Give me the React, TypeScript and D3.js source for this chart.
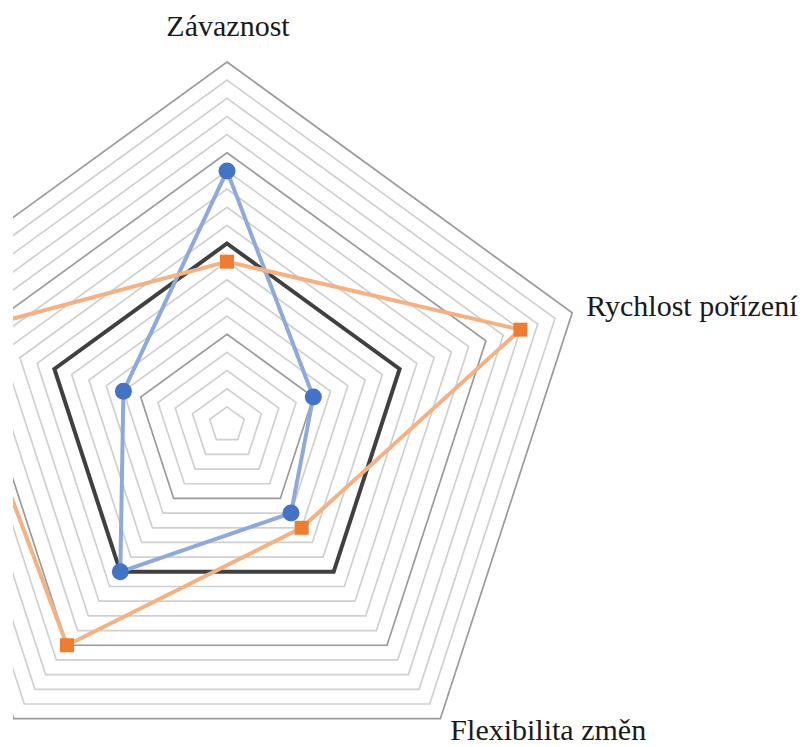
import React from 'react'
import * as d3 from 'd3'

// axes, clockwise from the top (the two on the left are cut off in the original)
const categories = ['Závaznost', 'Rychlost pořízení', 'Flexibilita změn', '', '']
const seriesBlue = [14, 5, 6, 10, 6]
const seriesOrange = [9, 17, 7, 15, 16]
const seriesDark = [10, 10, 10, 10, 10]
const gridLevels = d3.range(1, 21)

const width = 807
const height = 747
const cx = 227
const cy = 425
const radius = 363

const r = d3.scaleLinear().domain([0, 20]).range([0, radius])
const angle = d3
  .scaleLinear()
  .domain([0, categories.length])
  .range([0, 2 * Math.PI])

const point = (v: number, i: number): [number, number] => {
  const a = angle(i)
  return [cx + r(v) * Math.sin(a), cy - r(v) * Math.cos(a)]
}

const line = d3
  .line<number>()
  .x((d, i) => point(d, i)[0])
  .y((d, i) => point(d, i)[1])
  .curve(d3.curveLinearClosed)

const labelFont = 'Liberation Serif'
const sq = 14

const RadarChart = () => {
  const [tx, ty] = point(20, 0)
  const [rx, ry] = point(20, 1)
  const [bx, by] = point(20, 2)

  return (
    <svg
      width={width}
      height={height}
      viewBox={`0 0 ${width} ${height}`}
      style={{ position: 'absolute', left: 0, top: 0 }}
    >
      <clipPath id="plot-clip">
        <rect x={13} y={0} width={width - 13} height={height} />
      </clipPath>
      <g clipPath="url(#plot-clip)">
        {/* gridlines: light every step, darker every fifth */}
        {gridLevels.map((lv) => (
          <path
            key={lv}
            d={line(categories.map(() => lv)) ?? ''}
            fill="none"
            stroke={lv % 5 === 0 ? '#9a9a9a' : '#d0d0d0'}
            strokeWidth={1.7}
          />
        ))}
        <path d={line(seriesDark) ?? ''} fill="none" stroke="#404040" strokeWidth={4} />
        <path
          d={line(seriesBlue) ?? ''}
          fill="none"
          stroke="#8eaadb"
          strokeWidth={4}
          strokeLinejoin="round"
        />
        {seriesBlue.map((d, i) => {
          const [x, y] = point(d, i)
          return <circle key={i} cx={x} cy={y} r={8.5} fill="#4472c4" />
        })}
        <path
          d={line(seriesOrange) ?? ''}
          fill="none"
          stroke="#f4b183"
          strokeWidth={4}
          strokeLinejoin="round"
        />
        {seriesOrange.map((d, i) => {
          const [x, y] = point(d, i)
          return <rect key={i} x={x - sq / 2} y={y - sq / 2} width={sq} height={sq} fill="#ed7d31" />
        })}
      </g>
      <g fontFamily={labelFont} fontSize={30} fill="#1a1a1a">
        <text x={tx + 1} y={ty - 26} textAnchor="middle">
          {categories[0]}
        </text>
        <text x={rx + 14} y={ry + 3}>
          {categories[1]}
        </text>
        <text x={bx + 10} y={by + 21}>
          {categories[2]}
        </text>
      </g>
    </svg>
  )
}

export default function App() {
  return <RadarChart />
}
